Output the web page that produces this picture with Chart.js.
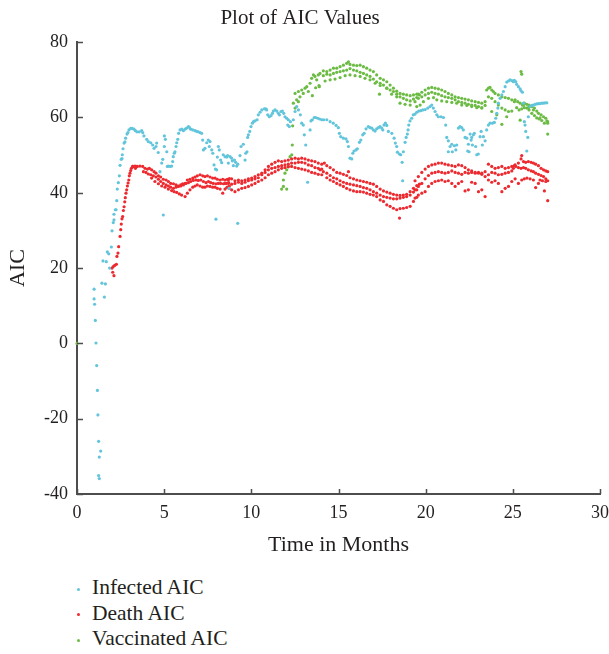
<!DOCTYPE html>
<html>
<head>
<meta charset="utf-8">
<title>Plot of AIC Values</title>
<script src="https://cdn.jsdelivr.net/npm/chart.js@4.4.0/dist/chart.umd.min.js"></script>
<style>
    body { margin: 0; background: #fff; }
    #wrap { position: relative; width: 609px; height: 654px; }
    #canvaAic { position: absolute; left: 0; top: 0; }
    #legend { position: absolute; left: 74px; top: 575px; font-family: "Liberation Serif", "DejaVu Serif", serif; font-size: 21.5px; color: #231f20; }
    #legend .item { height: 25.5px; line-height: 25.5px; white-space: nowrap; }
    #legend .dot { display: inline-block; width: 3px; height: 3px; border-radius: 50%; margin: 0 12px 0 3px; vertical-align: middle; }
</style>
</head>
<body>
<div id="wrap">
    <canvas id="canvaAic" width="609" height="560"></canvas>
    <div id="legend"></div>
</div>
<script>
// values (months, AIC)
const infectedX = [0.98, 0.98, 1.01, 1.05, 1.09, 1.13, 1.17, 1.20, 1.24, 1.28, 1.36, 1.24, 1.28, 1.43, 1.57, 1.63, 1.49, 1.68, 1.74, 1.82,
    1.87, 1.97, 2.01, 2.08, 2.12, 2.12, 2.20, 2.24, 2.28, 2.31, 2.37, 2.43, 2.47, 2.54, 2.58, 2.60, 2.64, 2.70, 2.75, 2.79,
    2.87, 2.92, 2.98, 3.08, 3.17, 3.27, 3.35, 3.44, 3.57, 3.71, 3.77, 3.84, 4.00, 4.09, 4.23, 4.34, 4.42, 4.53, 4.57, 4.66,
    4.76, 4.86, 4.92, 4.95, 5.01, 5.07, 5.01, 5.15, 5.18, 5.24, 5.34, 5.43, 5.49, 5.52, 5.58, 5.62, 5.68, 5.72, 5.78, 5.83,
    5.91, 6.01, 6.10, 6.20, 6.29, 6.39, 6.44, 6.52, 6.64, 6.77, 6.87, 6.96, 7.06, 7.15, 7.21, 7.25, 7.34, 7.44, 7.53, 7.63,
    7.59, 7.73, 7.79, 7.86, 7.94, 7.97, 8.01, 8.05, 8.11, 8.16, 8.24, 8.30, 8.39, 8.49, 8.59, 8.64, 8.68, 8.72, 8.78, 8.87,
    8.91, 8.97, 9.03, 9.10, 9.16, 9.22, 9.22, 9.35, 9.41, 9.54, 9.64, 9.68, 9.75, 9.79, 9.83, 9.91, 9.98, 10.06, 10.12, 10.21,
    10.33, 10.40, 10.50, 10.60, 10.75, 10.83, 10.88, 10.94, 11.03, 11.13, 11.21, 11.26, 11.36, 11.46, 11.55, 11.61, 11.70, 11.78, 11.86, 11.93,
    12.03, 12.09, 12.12, 12.18, 12.24, 12.41, 12.51, 12.60, 12.70, 12.81, 12.89, 12.98, 13.04, 13.12, 13.23, 13.37, 13.42, 13.50, 13.61, 13.69,
    13.81, 13.92, 14.04, 14.15, 14.33, 14.52, 14.70, 14.86, 14.99, 15.05, 15.13, 15.28, 15.43, 15.51, 15.57, 15.66, 15.76, 15.82, 15.89, 16.01,
    16.08, 16.20, 16.28, 16.39, 16.47, 16.58, 16.71, 16.81, 16.91, 17.00, 17.10, 17.19, 17.29, 17.38, 17.48, 17.54, 17.61, 17.69, 17.77, 17.86,
    18.06, 18.19, 18.26, 18.34, 18.38, 18.49, 18.57, 18.65, 18.68, 18.72, 18.82, 18.88, 18.95, 18.99, 19.03, 19.10, 19.20, 19.29, 19.39, 19.49,
    19.60, 19.72, 19.84, 19.97, 20.12, 20.25, 20.35, 20.44, 20.54, 20.64, 20.73, 20.88, 21.02, 21.15, 21.21, 21.30, 21.30, 21.40, 21.50, 21.53,
    21.65, 21.73, 21.78, 21.88, 21.97, 22.07, 22.16, 22.26, 22.36, 22.41, 22.45, 22.49, 22.55, 22.61, 22.64, 22.68, 22.74, 22.79, 22.87, 22.93,
    23.02, 23.12, 23.18, 23.25, 23.31, 23.41, 23.50, 23.60, 23.69, 23.83, 23.94, 24.02, 24.08, 24.14, 24.17, 24.27, 24.37, 24.46, 24.56, 24.65,
    24.75, 24.84, 24.94, 25.03, 25.09, 25.17, 25.22, 25.32, 25.42, 25.47, 25.55, 25.61, 25.66, 25.70, 25.74, 25.86, 25.80, 25.89, 25.99, 26.09,
    26.18, 26.28, 26.37, 26.47, 26.56, 26.66, 26.76, 26.85, 26.95];
const infectedY = [14.4, 11.8, 10.4, 6.1, 0.1, -5.9, -12.5, -19.0, -26.0, -30.2, -28.6, -35.1, -35.9, 16.0, 12.3, 15.8, 21.9, 21.7, 24.3, 23.8,
    20.0, 25.6, 29.9, 32.1, 32.8, 34.3, 35.5, 35.5, 37.9, 41.0, 42.7, 44.5, 47.3, 48.9, 49.1, 50.1, 51.7, 53.2, 53.5, 54.5,
    55.6, 56.0, 56.7, 57.1, 57.1, 56.9, 56.5, 56.2, 56.2, 56.5, 56.0, 55.1, 54.2, 53.6, 53.3, 52.7, 51.8, 52.3, 53.2, 50.7,
    45.6, 47.9, 48.9, 34.1, 55.1, 54.2, 52.3, 50.9, 47.0, 47.1, 47.0, 47.1, 48.3, 49.6, 50.5, 50.9, 52.3, 53.3, 54.2, 55.8,
    56.7, 56.9, 56.5, 56.9, 57.2, 57.6, 57.4, 56.9, 56.7, 56.5, 56.3, 56.2, 56.0, 55.8, 54.0, 51.4, 51.8, 53.3, 54.0, 53.6,
    52.3, 51.4, 50.5, 47.4, 46.3, 33.0, 46.1, 49.5, 52.3, 51.4, 48.7, 48.0, 50.1, 49.6, 49.5, 49.9, 47.9, 41.2, 49.6, 49.2,
    48.5, 47.2, 48.7, 48.1, 47.1, 47.6, 31.9, 49.9, 52.3, 52.9, 48.7, 50.5, 50.9, 54.7, 55.4, 56.3, 57.6, 58.5, 58.9, 59.1,
    59.4, 60.7, 61.4, 62.0, 62.3, 62.3, 62.0, 60.7, 60.2, 60.5, 61.1, 61.7, 62.0, 61.7, 61.1, 60.7, 61.6, 61.7, 61.1, 60.2,
    59.8, 58.0, 59.4, 57.6, 58.9, 59.4, 61.6, 62.9, 62.0, 60.7, 58.5, 58.0, 55.4, 52.7, 42.8, 56.7, 59.1, 59.4, 60.0, 60.0,
    59.8, 59.6, 59.4, 59.4, 59.4, 58.9, 58.5, 57.9, 57.3, 55.8, 54.9, 54.5, 54.3, 53.6, 52.3, 49.2, 49.0, 50.5, 51.1, 51.4,
    51.7, 53.4, 54.0, 55.4, 55.8, 57.0, 57.6, 57.3, 57.2, 56.7, 56.4, 57.0, 57.3, 57.6, 57.2, 56.7, 58.0, 58.5, 57.9, 56.3,
    55.8, 54.5, 53.2, 52.3, 50.8, 50.3, 50.1, 48.1, 43.2, 50.9, 53.4, 54.7, 55.6, 56.7, 58.0, 59.1, 59.8, 60.7, 60.9, 61.4,
    61.7, 61.8, 62.0, 62.1, 62.5, 62.9, 63.3, 62.5, 61.6, 60.7, 60.2, 60.2, 60.0, 58.0, 54.7, 53.8, 50.9, 52.3, 52.9, 50.9,
    52.5, 51.4, 52.7, 57.2, 57.6, 57.3, 56.7, 54.7, 54.5, 51.1, 52.9, 50.9, 55.6, 54.0, 54.7, 52.7, 55.4, 55.8, 52.3, 50.1,
    50.3, 54.9, 56.3, 52.7, 54.9, 53.8, 56.7, 58.0, 58.5, 58.5, 58.7, 59.8, 61.1, 62.5, 63.8, 65.1, 66.0, 66.9, 68.2, 69.4,
    69.7, 70.0, 69.8, 69.5, 69.9, 69.5, 68.8, 68.2, 67.6, 67.1, 66.7, 63.8, 58.9, 58.0, 56.3, 54.7, 51.1, 60.2, 62.9, 63.2,
    63.3, 63.5, 63.6, 63.7, 63.7, 63.8, 63.8, 63.9, 63.9];

const deathX = [2.05, 2.01, 2.08, 2.12, 2.16, 2.26, 2.29, 2.35, 2.39, 2.47, 2.51, 2.54, 2.58, 2.62, 2.66, 2.70, 2.74, 2.77, 2.81, 2.85,
    2.89, 2.93, 2.97, 3.00, 3.04, 3.08, 3.12, 3.20, 3.27, 3.35, 3.43,
    3.19, 3.33, 3.46, 3.61, 3.77, 3.90, 4.04, 4.15, 4.28, 4.42, 4.53, 4.67, 4.80, 4.95, 5.11, 5.24, 5.37, 5.53, 5.68, 5.81,
    5.95, 6.06, 6.20, 6.33, 6.48, 6.64, 6.77, 6.90, 7.06, 7.21, 7.34, 7.48, 7.63, 7.78, 7.92, 8.05, 8.21, 8.36, 8.49, 8.62, 8.74,
    3.81, 3.96, 4.09, 4.23, 4.38, 4.53, 4.67, 4.80, 4.95, 5.11, 5.24, 5.37, 5.53, 5.68, 5.81, 5.95, 6.10, 6.25, 6.39, 6.52,
    6.67, 6.83, 6.96, 7.10, 7.25, 7.40, 7.54, 7.67, 7.82, 7.98, 8.11, 8.24, 8.40, 8.55, 8.70,
    4.28, 4.47, 4.67, 4.86, 5.05, 5.24, 5.43, 5.57, 5.72, 5.87, 6.00, 6.20, 6.33, 6.48, 6.64, 6.77, 6.90, 7.06, 7.21, 7.34,
    7.48, 7.63, 7.78, 7.92, 8.05, 8.21, 8.36, 8.49, 8.62, 8.74,
    8.68, 8.87, 9.06, 9.26, 9.45, 9.64, 9.83, 10.02, 10.21, 10.40, 10.60, 10.79, 10.98, 11.17, 11.36, 11.55, 11.74, 11.93, 12.12, 12.31,
    12.51, 12.70, 12.89, 13.08, 13.27, 13.46, 13.65, 13.84, 14.04, 14.19,
    8.49, 8.68, 8.87, 9.06, 9.26, 9.45, 9.64, 9.83, 10.02, 10.21, 10.40, 10.60, 10.79, 10.98, 11.17, 11.36, 11.55, 11.74, 11.93, 12.12,
    12.31, 12.51, 12.70, 12.89, 13.08, 13.27, 13.46, 13.65, 13.84, 14.04,
    8.60, 8.72, 8.87, 9.06, 9.26, 9.45, 9.64, 9.83, 10.02, 10.21, 10.40, 10.60, 10.79, 10.98, 11.17, 11.36, 11.55, 11.74, 11.93, 12.12,
    12.31, 12.51, 12.70, 12.89, 13.08, 13.27, 13.46, 13.65, 13.84, 14.04,
    14.33, 14.52, 14.71, 14.90, 15.09, 15.28, 15.47, 15.66, 15.86, 16.05, 16.24, 16.43, 16.62, 16.81, 17.00, 17.19, 17.39, 17.58, 17.77, 17.96,
    18.15, 18.34, 18.53, 18.72, 18.91, 19.11, 19.30, 19.49, 19.64,
    13.94, 14.13, 14.33, 14.52, 14.71, 14.90, 15.09, 15.28, 15.47, 15.66, 15.86, 16.05, 16.24, 16.43, 16.62, 16.81, 17.00, 17.19, 17.39, 17.58,
    17.77, 17.96, 18.15, 18.34, 18.53, 18.72, 18.91, 19.11, 19.30, 19.49,
    14.33, 14.52, 14.71, 14.90, 15.09, 15.28, 15.47, 15.66, 15.86, 16.05, 16.24, 16.43, 16.62, 16.81, 17.00, 17.19, 17.39, 17.58, 17.77, 17.96,
    18.15, 18.34, 18.53, 18.72, 18.91, 19.11, 19.30, 19.49, 18.50, 15.57,
    19.39, 19.58, 19.78, 19.97, 20.16, 20.35, 20.54, 20.73, 20.92, 21.11, 21.30, 21.50, 21.69, 21.88, 22.07, 22.26, 22.45, 22.64, 22.84, 23.03,
    23.22, 23.41, 23.60, 23.79, 23.98, 24.17, 24.37, 24.56, 24.75, 24.94, 25.09,
    19.39, 19.58, 19.78, 19.97, 20.16, 20.35, 20.54, 20.73, 20.92, 21.11, 21.30, 21.50, 21.69, 21.88, 22.07, 22.26, 22.45, 22.64, 22.84, 23.03,
    23.22, 23.41, 23.60, 23.79, 23.98, 24.17, 24.37, 24.56, 24.75, 24.94,
    19.39, 19.58, 19.78, 19.97, 20.16, 20.35, 20.54, 20.73, 20.92, 21.11, 21.30, 21.50, 21.69, 21.88, 22.07, 22.26, 22.45, 22.64, 22.84, 23.03,
    23.22, 23.41, 23.60, 23.79, 23.98, 24.17, 24.37, 24.56, 24.75, 24.94,
    25.13, 25.32, 25.47, 25.51, 25.61, 25.74, 25.89, 26.05, 26.18, 26.31, 26.47, 26.62, 26.76, 26.89, 27.00,
    25.03, 25.17, 25.32, 25.47, 25.61, 25.74, 25.89, 26.05, 26.18, 26.31, 26.47, 26.62, 26.76, 26.89, 27.00,
    25.13, 25.32, 25.51, 25.66, 25.81, 25.99, 26.18, 26.31, 26.47, 26.56, 26.70, 26.81, 26.89, 27.00];
const deathY = [18.9, 20.0, 20.4, 18.0, 20.7, 21.0, 23.1, 24.0, 25.7, 28.4, 30.2, 31.7, 33.1, 33.7, 35.3, 36.3, 37.6, 38.7, 39.9, 40.8,
    41.8, 42.6, 43.4, 44.5, 45.2, 45.9, 46.5, 47.0, 47.0, 46.5, 47.0,
    47.0, 47.1, 47.0, 47.1, 47.0, 46.5, 46.3, 46.5, 46.1, 45.6, 45.2, 44.5, 44.2, 43.6, 43.4, 43.0, 42.5, 42.4, 42.1, 41.8,
    42.1, 42.4, 42.5, 43.4, 43.6, 43.9, 44.2, 44.5, 44.8, 44.5, 44.3, 44.5, 44.2, 43.9, 43.9, 43.6, 43.4, 43.6, 43.4, 43.6, 43.8,
    45.6, 45.4, 45.0, 44.8, 44.5, 44.2, 43.6, 43.0, 42.5, 42.1, 41.8, 41.5, 41.2, 41.5, 41.7, 41.8, 42.1, 42.5, 42.7, 43.0,
    43.3, 43.4, 43.3, 43.4, 43.0, 42.7, 43.0, 42.7, 42.5, 42.4, 42.5, 42.5, 42.4, 42.5, 42.7,
    43.9, 43.0, 42.4, 41.8, 41.5, 41.0, 40.6, 40.3, 40.1, 39.7, 39.4, 39.0, 39.9, 40.8, 41.5, 41.8, 42.1, 41.8, 41.5, 41.5,
    41.8, 41.7, 41.5, 41.5, 41.2, 41.0, 39.9, 41.0, 41.5, 41.8,
    43.4, 43.7, 43.2, 43.4, 43.2, 43.4, 43.7, 43.9, 44.3, 44.8, 45.2, 46.1, 47.0, 47.6, 48.1, 48.5, 48.3, 48.5, 48.7, 49.0,
    49.2, 49.0, 49.2, 49.0, 48.7, 48.5, 48.3, 47.9, 47.6, 47.9,
    42.5, 42.5, 42.3, 42.5, 42.8, 42.5, 42.8, 43.2, 43.4, 43.7, 44.0, 44.8, 45.4, 46.1, 46.5, 46.7, 47.0, 47.2, 47.4, 47.6,
    47.9, 47.9, 48.1, 48.1, 47.9, 47.4, 47.2, 46.7, 46.5, 46.3,
    41.4, 41.2, 40.8, 40.3, 40.8, 41.2, 41.4, 41.7, 42.1, 42.5, 43.0, 43.4, 44.0, 44.8, 45.2, 45.6, 46.1, 46.5, 46.7, 46.9,
    47.0, 46.7, 46.5, 46.3, 46.1, 45.8, 45.4, 45.2, 44.9, 44.8,
    47.2, 46.7, 46.1, 45.4, 45.2, 44.9, 44.6, 44.0, 43.7, 43.4, 43.2, 43.0, 42.8, 42.5, 42.3, 41.7, 41.0, 40.5, 40.2, 39.9,
    39.6, 39.4, 39.3, 39.4, 39.6, 40.3, 41.2, 41.9, 42.3,
    46.1, 45.6, 45.2, 44.6, 44.0, 43.7, 43.2, 42.8, 42.5, 42.3, 42.1, 41.9, 41.7, 41.4, 41.2, 40.8, 40.3, 39.9, 39.4, 39.0,
    38.8, 38.6, 38.4, 38.4, 38.6, 38.8, 39.0, 39.4, 40.2, 40.8,
    44.0, 43.4, 43.0, 42.5, 42.1, 41.7, 41.2, 40.8, 40.5, 40.3, 40.3, 40.2, 39.9, 39.6, 39.4, 39.0, 38.1, 37.7, 36.8, 36.4,
    35.9, 35.5, 35.8, 35.9, 36.1, 36.4, 37.7, 38.8, 33.3, 45.6,
    43.2, 44.3, 45.4, 46.3, 47.0, 47.4, 47.6, 47.9, 47.9, 47.6, 47.4, 47.2, 47.0, 47.4, 47.2, 46.7, 46.1, 45.8, 45.4, 45.2,
    45.2, 45.6, 47.6, 47.0, 46.5, 46.7, 47.0, 46.5, 46.7, 47.0, 47.2,
    40.8, 41.7, 42.5, 43.7, 44.6, 45.2, 45.4, 45.6, 45.4, 45.2, 45.4, 45.8, 45.4, 45.2, 44.9, 45.4, 45.2, 45.4, 45.2, 45.4,
    44.9, 44.3, 44.8, 45.4, 45.2, 44.8, 44.9, 45.2, 45.4, 45.8,
    38.6, 39.4, 39.9, 40.3, 41.7, 42.5, 43.0, 43.2, 43.4, 43.0, 43.2, 42.5, 41.7, 42.5, 43.0, 40.5, 40.8, 42.8, 42.5, 40.3,
    40.8, 39.0, 43.4, 42.8, 43.2, 42.5, 40.3, 41.2, 41.7, 43.0,
    47.4, 47.9, 49.0, 49.9, 48.3, 48.1, 48.3, 48.1, 47.9, 47.6, 47.2, 46.5, 46.1, 45.8, 45.6,
    46.5, 47.0, 46.7, 46.5, 46.7, 46.5, 46.1, 45.8, 45.6, 45.2, 44.9, 44.6, 44.3, 43.7, 43.2,
    43.7, 42.5, 43.4, 43.7, 43.9, 43.7, 43.4, 41.4, 42.5, 43.4, 43.2, 40.5, 43.0, 37.9];

const vaccinatedX = [0.00,
    11.74, 11.84, 12.03, 11.84, 11.93, 12.03, 12.12, 12.22, 12.32, 12.35, 12.37, 12.41, 12.51, 12.60, 12.70, 12.79, 12.51, 12.70, 12.89, 12.98,
    13.08, 13.18, 13.27, 13.37, 13.46, 13.56, 13.65, 13.75, 13.84, 13.90, 13.50, 13.69, 13.88,
    13.94, 14.13, 14.33, 14.52, 14.71, 14.90, 15.09, 15.28, 15.47, 15.57, 15.66, 15.86, 16.05, 16.24, 16.43, 16.62, 16.81, 17.00, 17.19, 17.39,
    17.58, 17.77, 17.96, 18.15, 18.34, 18.53, 18.72, 18.91, 19.11, 19.30, 19.49, 19.64,
    14.13, 14.33, 14.52, 14.71, 14.90, 15.09, 15.28, 15.47, 15.66, 15.86, 16.05, 16.24, 16.43, 16.62, 16.81, 17.00, 17.19, 17.39, 17.58,
    17.77, 17.96, 18.15, 18.34, 18.53, 18.72, 18.91, 19.11, 19.30, 19.49,
    14.23, 14.52, 14.80, 15.09, 15.38, 15.66, 15.95, 16.24, 16.52, 16.81, 17.10, 17.39, 17.77, 18.05, 18.34, 18.53, 18.82, 19.11, 19.39, 17.35,
    19.58, 19.78, 19.97, 20.16, 20.35, 20.54, 20.73, 20.92, 21.11, 21.30, 21.50, 21.69, 21.88, 22.07, 22.26, 22.45, 22.64, 22.84, 23.03, 23.22,
    23.41, 23.50, 23.60, 23.69, 23.79, 23.88, 23.98, 24.17, 24.37, 24.56, 24.75, 24.94, 25.09,
    19.58, 19.78, 19.97, 20.16, 20.35, 20.54, 20.73, 20.92, 21.11, 21.30, 21.50, 21.69, 21.88, 22.07, 22.26, 22.45, 22.64, 22.84, 23.03,
    23.22, 23.41, 23.60, 23.79, 23.98, 24.17, 24.37, 24.56, 24.75, 24.94,
    19.49, 19.68, 19.87, 20.16, 20.45, 20.64, 20.92, 21.21, 21.50, 21.78, 22.07, 22.36, 22.64, 22.93, 23.22, 23.79, 24.08, 24.37, 24.65,
    25.47, 25.51,
    25.13, 25.28, 25.42, 25.55, 25.66, 25.80, 25.93, 26.09, 26.24, 26.37, 26.47, 26.62, 26.76, 26.89, 27.00,
    25.22, 25.36, 25.51, 25.66, 25.80, 25.93, 26.09, 26.24, 26.37, 26.51, 26.66, 26.81, 26.95, 27.00,
    25.42, 25.61, 25.89, 26.18, 26.56, 27.00];
const vaccinatedY = [0.0,
    41.0, 41.7, 41.0, 43.4, 45.2, 46.1, 47.0, 49.6, 50.1, 52.7, 57.8, 63.8, 62.5, 64.7, 64.2, 65.5, 66.4, 66.9, 67.3, 66.4,
    67.8, 68.2, 66.9, 69.1, 70.4, 71.3, 70.9, 70.0, 71.3, 68.2, 65.8, 67.9, 68.5,
    71.7, 72.4, 72.2, 72.6, 73.1, 73.1, 73.5, 73.9, 74.4, 74.8, 74.1, 73.9, 73.8, 73.9, 73.5, 73.1, 72.6, 72.2, 71.3, 70.4,
    70.0, 69.5, 68.6, 67.8, 67.0, 66.4, 66.2, 66.0, 65.8, 66.0, 66.2, 66.0,
    71.1, 71.5, 71.3, 71.7, 72.0, 72.2, 72.4, 72.6, 73.0, 72.6, 72.4, 72.0, 71.7, 71.3, 70.9, 70.2, 69.5, 69.1, 68.6,
    67.8, 67.3, 66.9, 66.2, 65.5, 65.1, 64.7, 64.4, 64.9, 65.3,
    69.7, 70.0, 70.2, 70.6, 71.1, 71.3, 71.1, 70.9, 70.4, 70.0, 69.1, 68.5, 67.8, 66.2, 65.5, 63.8, 63.5, 63.3, 64.2, 66.2,
    66.2, 66.7, 67.3, 67.8, 68.0, 67.8, 67.6, 67.3, 66.9, 66.4, 66.0, 65.5, 65.3, 65.1, 64.9, 64.7, 64.4, 64.2, 64.0, 63.8,
    64.2, 67.3, 67.8, 68.0, 67.3, 66.9, 66.4, 66.0, 65.5, 65.3, 65.1, 64.7, 64.2,
    65.1, 65.5, 66.0, 66.4, 66.7, 66.4, 66.2, 65.8, 65.5, 65.3, 65.1, 64.7, 64.2, 64.0, 63.8, 63.5, 63.3, 63.2, 62.9,
    62.6, 63.2, 65.5, 65.1, 64.2, 63.3, 62.5, 62.0, 61.6, 61.7,
    62.9, 63.3, 64.2, 65.1, 65.3, 64.7, 64.4, 64.2, 64.0, 63.8, 63.3, 63.2, 62.9, 62.6, 62.5, 61.6, 60.7, 58.2, 60.2,
    72.2, 71.5,
    64.7, 64.2, 63.8, 63.3, 63.8, 63.5, 63.3, 62.9, 62.5, 61.7, 61.1, 60.7, 60.2, 59.8, 58.9,
    62.6, 62.0, 62.3, 62.6, 62.5, 62.0, 61.1, 60.5, 59.9, 59.6, 59.2, 58.5, 59.1, 58.5,
    59.3, 63.3, 62.6, 62.0, 59.9, 55.6];

const xTicks = [0, 5, 10, 15, 20, 25, 30];
const yTicks = [-40, -20, 0, 20, 40, 60, 80];

const fuente = '"Liberation Serif", "DejaVu Serif", serif';
const colorTexto = '#231f20';
const colorEje = '#4d4d4d';

function toPoints(xs, ys) {
    return xs.map((x, i) => ({ x: x, y: ys[i] }));
}

// inward tick marks like the reference (ticks drawn inside the plot)
const marcasInternas = {
    id: 'marcasInternas',
    afterDraw(chart) {
        const { ctx, chartArea, scales } = chart;
        ctx.save();
        ctx.strokeStyle = colorEje;
        ctx.lineWidth = 1.5;
        ctx.beginPath();
        xTicks.forEach((v) => {
            const px = Math.round(scales.x.getPixelForValue(v)) + 0.5;
            ctx.moveTo(px, chartArea.bottom);
            ctx.lineTo(px, chartArea.bottom - 5);
        });
        yTicks.forEach((v) => {
            const py = Math.round(scales.y.getPixelForValue(v)) + 0.5;
            ctx.moveTo(chartArea.left, py);
            ctx.lineTo(chartArea.left + 6, py);
        });
        ctx.stroke();
        ctx.restore();
    }
};

const series = [
    { label: 'Infected AIC', color: '#62c5db', xs: infectedX, ys: infectedY },
    { label: 'Death AIC', color: '#ec2a2f', xs: deathX, ys: deathY },
    { label: 'Vaccinated AIC', color: '#6cbb44', xs: vaccinatedX, ys: vaccinatedY }
];

const chartAic = new Chart(document.getElementById('canvaAic'), {
    type: 'scatter',
    plugins: [marcasInternas],
    data: {
        datasets: series.map((s) => ({
            label: s.label,
            data: toPoints(s.xs, s.ys),
            backgroundColor: s.color,
            borderColor: s.color,
            borderWidth: 0,
            pointRadius: 1.6,
            pointHoverRadius: 1.6,
            clip: 4
        }))
    },
    options: {
        responsive: false,
        animation: false,
        layout: { padding: { left: 0, right: 9, top: 0, bottom: 0 } },
        scales: {
            x: {
                type: 'linear',
                min: 0,
                max: 30,
                afterBuildTicks: (scale) => { scale.ticks = xTicks.map((v) => ({ value: v })); },
                afterFit: (scale) => {
                    scale.height = 66;
                    scale.paddingLeft = 0;
                    scale.paddingRight = 0;
                },
                grid: { display: false, drawTicks: false },
                border: { display: true, color: colorEje, width: 2 },
                ticks: { color: colorTexto, padding: 8, maxRotation: 0, font: { family: fuente, size: 18 } },
                title: {
                    display: true,
                    text: 'Time in Months',
                    color: colorTexto,
                    padding: { top: 0, bottom: 2 },
                    font: { family: fuente, size: 22 }
                }
            },
            y: {
                type: 'linear',
                min: -40,
                max: 80,
                afterBuildTicks: (scale) => { scale.ticks = yTicks.map((v) => ({ value: v })); },
                afterFit: (scale) => { scale.width = 77; },
                grid: { display: false, drawTicks: false },
                border: { display: true, color: colorEje, width: 2 },
                ticks: { color: colorTexto, padding: 9, font: { family: fuente, size: 18 } },
                title: {
                    display: true,
                    text: 'AIC',
                    color: colorTexto,
                    padding: { top: 5, bottom: 0 },
                    font: { family: fuente, size: 22 }
                }
            }
        },
        plugins: {
            legend: { display: false },
            tooltip: { enabled: false },
            title: {
                display: true,
                text: 'Plot of AIC Values',
                color: colorTexto,
                padding: { top: 6, bottom: 11 },
                font: { family: fuente, size: 21, weight: 'normal' }
            }
        }
    }
});

// legend stacked below the chart, built from the datasets
const legendBox = document.getElementById('legend');
chartAic.data.datasets.forEach((ds) => {
    const item = document.createElement('div');
    item.className = 'item';
    const dot = document.createElement('span');
    dot.className = 'dot';
    dot.style.background = ds.backgroundColor;
    item.appendChild(dot);
    item.appendChild(document.createTextNode(ds.label));
    legendBox.appendChild(item);
});
</script>
</body>
</html>
